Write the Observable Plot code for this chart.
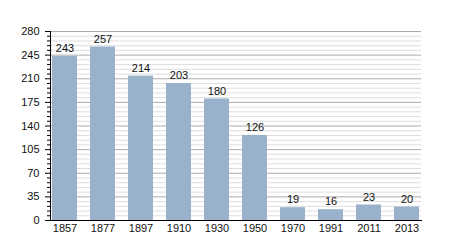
<!DOCTYPE html>
<html><head><meta charset="utf-8">
<script src="https://cdn.jsdelivr.net/npm/d3@7"></script>
<script src="https://cdn.jsdelivr.net/npm/@observablehq/plot@0.6"></script>
<style>body{margin:0;background:#fff;} svg{display:block;}</style>
</head><body>
<div id="chart"></div>
<script>
const years = ["1857","1877","1897","1910","1930","1950","1970","1991","2011","2013"];
const values = [243,257,214,203,180,126,19,16,23,20];
const majorTicks = [0,35,70,105,140,175,210,245,280];
const minorTicks = d3.range(0,281,7).filter(v => v % 35 !== 0);

const data = years.map((y,i) => ({year:y, value:values[i]}));

const chart = Plot.plot({
  width: 450, height: 250,
  marginLeft: 50, marginRight: 29, marginTop: 31, marginBottom: 30,
  style: {fontFamily: "Liberation Sans, Arial, sans-serif", fontSize: "11px", color: "#000", background: "#fff"},
  x: {domain: years, paddingInner: 0.336, paddingOuter: 0, label: null},
  y: {domain: [0,280], label: null},
  marks: [
    Plot.ruleY(minorTicks, {stroke: "#dedede", strokeWidth: 1}),
    Plot.ruleY(majorTicks, {stroke: "#ababab", strokeWidth: 1}),
    Plot.barY(data, {x: "year", y: "value", fill: "#9ab1cc"}),
    Plot.text(data, {x: "year", y: "value", text: d => String(d.value), dy: -8, fill: "#111", fontSize: 11}),
    Plot.axisY({ticks: minorTicks, tickSize: 3, tickFormat: () => "", stroke: "#000"}),
    Plot.axisY({ticks: majorTicks, tickSize: 5, tickPadding: 6, stroke: "#000", fill: "#111", fontSize: 11}),
    Plot.axisX({tickSize: 0, tickPadding: 4, fill: "#111", fontSize: 11}),
    Plot.frame({anchor: "left", stroke: "#000"}),
    Plot.frame({anchor: "bottom", stroke: "#000"})
  ]
});
document.getElementById("chart").appendChild(chart);
</script>
</body></html>
